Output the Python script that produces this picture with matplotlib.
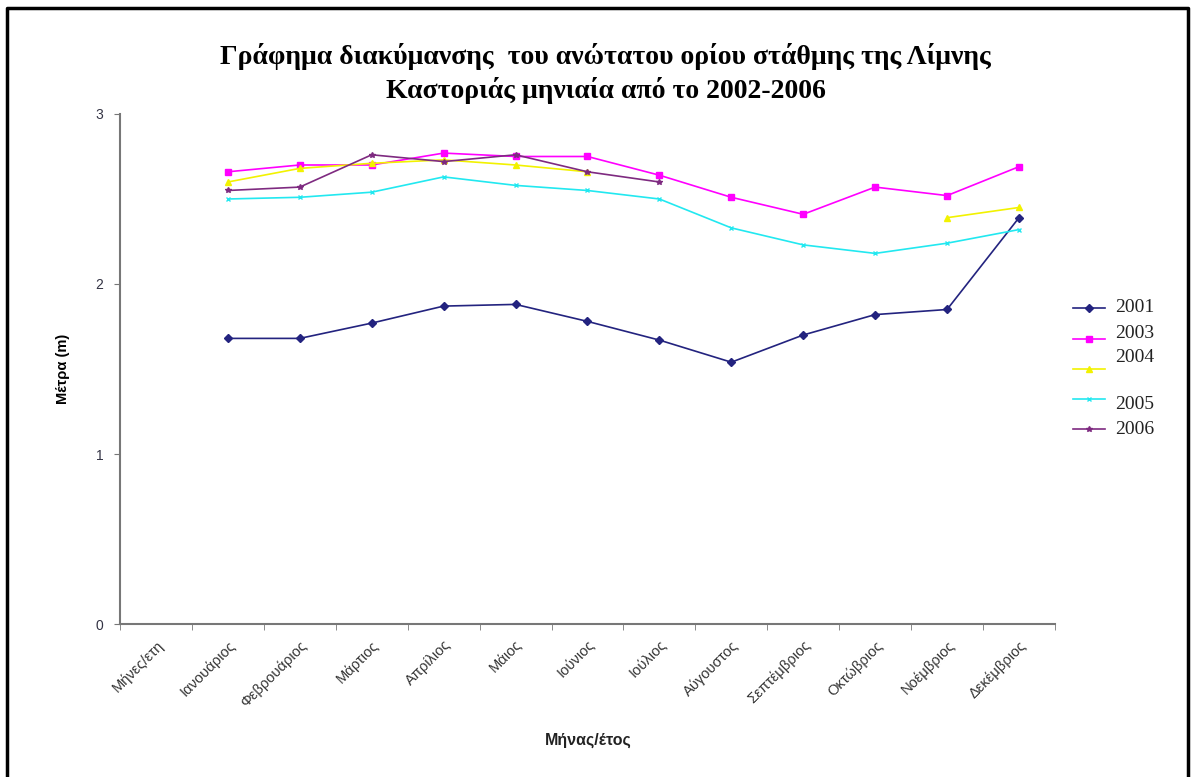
import matplotlib
matplotlib.use("Agg")
import matplotlib.pyplot as plt
from matplotlib.lines import Line2D
import numpy as np

# monthly maximum water level of Lake Kastoria (m)
months = ["Μήνες/ετη", "Ιανουάριος", "Φεβρουάριος", "Μάρτιος", "Απρίλιος", "Μάιος",
          "Ιούνιος", "Ιούλιος", "Αύγουστος", "Σεπτέμβριος", "Οκτώβριος",
          "Νοέμβριος", "Δεκέμβριος"]

y2001 = [np.nan, 1.68, 1.68, 1.77, 1.87, 1.88, 1.78, 1.67, 1.54, 1.70, 1.82, 1.85, 2.39]
y2003 = [np.nan, 2.66, 2.70, 2.70, 2.77, 2.75, 2.75, 2.64, 2.51, 2.41, 2.57, 2.52, 2.69]
y2004 = [np.nan, 2.60, 2.68, 2.71, 2.73, 2.70, 2.66, np.nan, np.nan, np.nan, np.nan, 2.39, 2.45]
y2005 = [np.nan, 2.50, 2.51, 2.54, 2.63, 2.58, 2.55, 2.50, 2.33, 2.23, 2.18, 2.24, 2.32]
y2006 = [np.nan, 2.55, 2.57, 2.76, 2.72, 2.76, 2.66, 2.60, np.nan, np.nan, np.nan, np.nan, np.nan]

series = [
    ("2001", y2001, "#23237f", "D", 4),
    ("2003", y2003, "#ff00ff", "s", 4.5),
    ("2004", y2004, "#f2f200", "^", 5),
    ("2005", y2005, "#22e8f0", "x", 3),
    ("2006", y2006, "#7e2a80", "*", 4),
]

fig = plt.figure(figsize=(11.95, 7.77), dpi=100)
ax = fig.add_axes([0.1004, 0.1969, 0.7824, 0.6564])

x = np.arange(len(months))
for name, vals, col, mk, ms in series:
    ax.plot(x, vals, color=col, lw=1.2, marker=mk, ms=ms, mew=1.0,
            mfc=col, mec=col)

ax.set_xlim(-0.5, len(months) - 0.5)
ax.set_ylim(0, 3)
ax.set_yticks([0, 1, 2, 3])
ax.set_yticklabels(["0", "1", "2", "3"], fontsize=10, color="#333344",
                   family="Liberation Sans")

# category ticks sit between the month slots
ax.set_xticks(np.arange(-0.5, len(months) + 0.5, 1), minor=True)
ax.set_xticks(x)
ax.set_xticklabels(months, rotation=45, ha="right", rotation_mode="anchor",
                   fontsize=10.5, color="#333333", family="Liberation Sans")
ax.tick_params(axis="x", which="major", length=0, pad=10)
ax.tick_params(axis="x", which="minor", length=4, color="#777777", direction="out")
ax.tick_params(axis="y", length=4, color="#777777", direction="out", pad=8)

for side in ["top", "right"]:
    ax.spines[side].set_visible(False)
for side in ["left", "bottom"]:
    ax.spines[side].set_color("#777777")
    ax.spines[side].set_linewidth(1.5)

ax.set_ylabel("Μέτρα (m)", fontsize=10.5, fontweight="bold", family="Liberation Sans",
              labelpad=18)
fig.text(0.492, 0.047, "Μήνας/έτος", fontsize=11.5, fontweight="bold",
         family="Liberation Sans", ha="center", va="center", color="#222222")

fig.text(0.507, 0.927, "Γράφημα διακύμανσης  του ανώτατου ορίου στάθμης της Λίμνης",
         fontsize=20, fontweight="bold", family="Liberation Serif",
         ha="center", va="center")
fig.text(0.507, 0.884, "Καστοριάς μηνιαία από το 2002-2006",
         fontsize=20, fontweight="bold", family="Liberation Serif",
         ha="center", va="center")

# legend drawn by hand to keep the odd label offsets
leg_line_y = [308, 339, 369, 399, 429]
leg_text_y = [308, 333, 357, 405, 429]
for (name, vals, col, mk, ms), ly, ty in zip(series, leg_line_y, leg_text_y):
    fy = 1 - ly / 777
    fig.add_artist(Line2D([1073 / 1195, 1105 / 1195], [fy, fy], color=col, lw=1.2,
                          transform=fig.transFigure))
    fig.add_artist(Line2D([1089 / 1195], [fy], color=col, marker=mk, ms=ms,
                          mfc=col, mec=col, mew=1.0, transform=fig.transFigure))
    fig.text(1115 / 1195, 1 - ty / 777, name, fontsize=14, family="Liberation Serif",
             va="center", ha="left", color="#222222")

# outer frame (top, left, right)
fig.add_artist(Line2D([7 / 1195, 7 / 1195, 1188 / 1195, 1188 / 1195],
                      [0, 1 - 8 / 777, 1 - 8 / 777, 0], color="black", lw=2.5,
                      transform=fig.transFigure))

fig.savefig("out.png", dpi=100, facecolor="white")
